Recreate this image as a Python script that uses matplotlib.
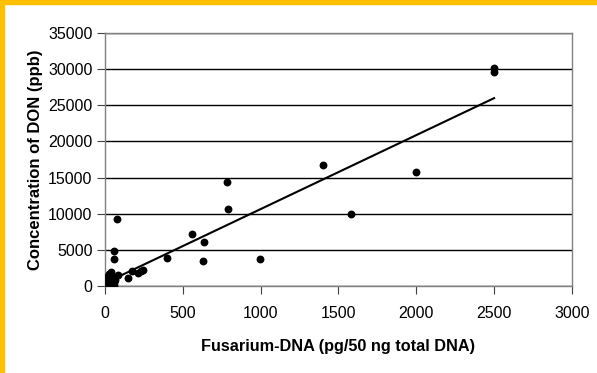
import numpy as np
import matplotlib.pyplot as plt
from matplotlib.patches import Rectangle

plt.rcParams['font.family'] = ['Liberation Sans', 'DejaVu Sans']

# Fusarium DNA (pg/50 ng total DNA) vs DON concentration (ppb)
dna = [2500, 2500, 1400, 2000, 1580, 785, 788, 556, 637, 628, 395, 998,
       75, 58, 58, 85, 150, 171, 231, 246, 214,
       0, 5, 8, 10, 12, 15, 18, 20, 25, 28, 30, 35, 40, 45, 50, 55, 60, 62]
don = [30200, 29600, 16700, 15800, 9950, 14450, 10600, 7250, 6100, 3500, 3900, 3750,
       9250, 4800, 3700, 1500, 1050, 2150, 2150, 2250, 1850,
       100, 300, 600, 200, 1000, 500, 1400, 800, 1700, 400, 1100, 1900, 700, 300, 1200, 500, 200, 800]

# linear trend line
slope = 10.22
intercept = 425
trend_x = np.array([0, 2500])
trend_y = slope * trend_x + intercept

fig = plt.figure(figsize=(5.97, 3.73), dpi=100)
ax = fig.add_axes([0.176, 0.233, 0.782, 0.679])

ax.scatter(dna, don, s=32, color='black', zorder=3, linewidths=0)
ax.plot(trend_x, trend_y, color='black', lw=1.5, zorder=2)

ax.set_xlim(0, 3000)
ax.set_ylim(0, 35000)
ax.set_xticks(np.arange(0, 3001, 500))
ax.set_yticks(np.arange(0, 35001, 5000))
ax.yaxis.grid(True, color='black', lw=1)
ax.set_axisbelow(True)
for sp in ax.spines.values():
    sp.set_color('#808080')
    sp.set_linewidth(1)
ax.tick_params(direction='out', length=6, color='#404040', labelsize=11.5, pad=3)
ax.tick_params(axis='x', pad=8)

ax.set_xlabel('Fusarium-DNA (pg/50 ng total DNA)', fontsize=11.7, fontweight='bold', labelpad=13)
ax.set_ylabel('Concentration of DON (ppb)', fontsize=12, fontweight='bold', labelpad=4)

# gold frame along the top and left edges
fig.patches.append(Rectangle((0, 0.99), 1, 0.02, transform=fig.transFigure,
                             color='#FFC000', zorder=0))
fig.patches.append(Rectangle((-0.01, 0), 0.017, 1, transform=fig.transFigure,
                             color='#FFC000', zorder=0))

fig.savefig('out.png', dpi=100)
